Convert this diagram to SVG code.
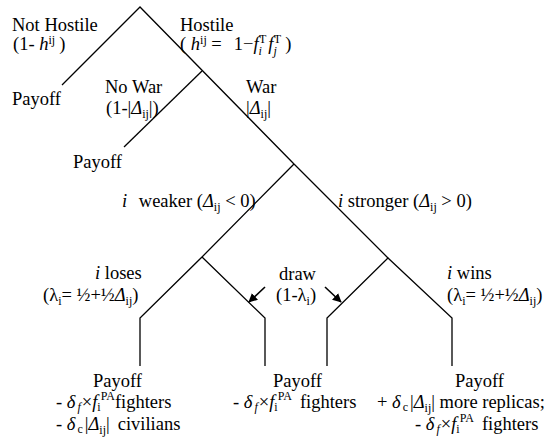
<svg xmlns="http://www.w3.org/2000/svg" width="548" height="437" viewBox="0 0 548 437">
<style>
  text{font-family:"Liberation Serif",Tinos,"Times New Roman",Times,"DejaVu Serif",serif;font-size:18.5px;fill:#000}
  .it{font-style:italic}
  .s{font-size:12px}
  .ln{fill:none;stroke:#000;stroke-width:1.3}
  .ar{fill:none;stroke:#000;stroke-width:1.6}
</style>
<defs>
  <marker id="ah" viewBox="0 0 10 10" refX="9" refY="5" markerWidth="9" markerHeight="9" markerUnits="userSpaceOnUse" orient="auto">
    <path d="M0,0 L10,5 L0,10 z" fill="#000"/>
  </marker>
</defs>
<rect width="548" height="437" fill="#fff"/>
<g id="connectors">
  <path class="ln" d="M62,85 L140,7 L294,164"/>
  <path class="ln" d="M202,71 L124,147"/>
  <path class="ln" d="M294,164 L202,257 L140,318 L140,366"/>
  <path class="ln" d="M202,257 L265,318 L265,366"/>
  <path class="ln" d="M294,164 L388,258 L327,318 L327,366"/>
  <path class="ln" d="M388,258 L452,318 L452,366"/>
  <line class="ar" x1="265" y1="287" x2="249" y2="302" marker-end="url(#ah)"/>
  <line class="ar" x1="325" y1="287" x2="341" y2="302" marker-end="url(#ah)"/>
</g>
<g id="not-hostile">
  <text x="12" y="31">Not Hostile</text>
  <text x="13" y="50">(1- <tspan class="it">h</tspan><tspan class="s" dy="-6">ij</tspan><tspan dy="6" dx="4">)</tspan></text>
  <text x="12" y="105">Payoff</text>
</g>
<g id="hostile">
  <text x="180" y="31">Hostile</text>
  <text x="180" y="50">( <tspan class="it">h</tspan><tspan class="s" dy="-6">ij</tspan><tspan dy="6"> =</tspan><tspan dx="12">1−</tspan><tspan class="it">f</tspan><tspan class="s it" dy="5">i</tspan><tspan class="s" dx="-3" dy="-12">T</tspan><tspan class="it" dy="7" dx="2">f</tspan><tspan class="s it" dy="5">j</tspan><tspan class="s" dx="-3" dy="-12">T</tspan><tspan dy="7" dx="4">)</tspan></text>
</g>
<g id="no-war">
  <text x="105" y="93">No War</text>
  <text x="106" y="114">(1-|<tspan class="it">Δ</tspan><tspan class="s" dy="4">ij</tspan><tspan dy="-4">|)</tspan></text>
  <text x="73" y="168">Payoff</text>
</g>
<g id="war">
  <text x="246" y="93">War</text>
  <text x="246" y="114">|<tspan class="it">Δ</tspan><tspan class="s" dy="4">ij</tspan><tspan dy="-4">|</tspan></text>
</g>
<g id="i-weaker">
  <text x="122" y="207"><tspan class="it">i</tspan><tspan dx="7"> weaker (</tspan><tspan class="it">Δ</tspan><tspan class="s" dy="4">ij</tspan><tspan dy="-4"> &lt; 0)</tspan></text>
</g>
<g id="i-stronger">
  <text x="338" y="207"><tspan class="it">i</tspan> stronger (<tspan class="it">Δ</tspan><tspan class="s" dy="4">ij</tspan><tspan dy="-4"> &gt; 0)</tspan></text>
</g>
<g id="i-loses">
  <text x="95" y="279"><tspan class="it">i</tspan> loses</text>
  <text x="43" y="301">(λ<tspan class="s" dy="4">i</tspan><tspan dy="-4">= ½+½</tspan><tspan class="it">Δ</tspan><tspan class="s" dy="4">ij</tspan><tspan dy="-4">)</tspan></text>
  <text x="93" y="387">Payoff</text>
  <text x="56" y="408">- <tspan class="it">δ</tspan><tspan class="s it" dy="3" dx="2">f</tspan><tspan dy="-3" dx="1">×</tspan><tspan class="it">f</tspan><tspan class="s" dy="3">i</tspan><tspan class="s" dy="-11">PA</tspan><tspan dy="8">fighters</tspan></text>
  <text x="56" y="430">- <tspan class="it">δ</tspan><tspan class="s" dy="3" dx="2">c</tspan><tspan dy="-3" dx="2">|</tspan><tspan class="it">Δ</tspan><tspan class="s" dy="4">ij</tspan><tspan dy="-4">|</tspan><tspan dx="8">civilians</tspan></text>
</g>
<g id="draw">
  <text x="279" y="280">draw</text>
  <text x="276" y="301">(1-λ<tspan class="s" dy="4">i</tspan><tspan dy="-4">)</tspan></text>
  <text x="273" y="387">Payoff</text>
  <text x="233" y="408">- <tspan class="it">δ</tspan><tspan class="s it" dy="3" dx="2">f</tspan><tspan dy="-3" dx="1">×</tspan><tspan class="it">f</tspan><tspan class="s" dy="3">i</tspan><tspan class="s" dy="-11">PA</tspan><tspan dy="8" dx="8">fighters</tspan></text>
</g>
<g id="i-wins">
  <text x="447" y="279"><tspan class="it">i</tspan> wins</text>
  <text x="447" y="301">(λ<tspan class="s" dy="4">i</tspan><tspan dy="-4">= ½+½</tspan><tspan class="it">Δ</tspan><tspan class="s" dy="4">ij</tspan><tspan dy="-4">)</tspan></text>
  <text x="455" y="387">Payoff</text>
  <text x="377" y="408">+ <tspan class="it">δ</tspan><tspan class="s" dy="3" dx="2">c</tspan><tspan dy="-3" dx="2">|</tspan><tspan class="it">Δ</tspan><tspan class="s" dy="4">ij</tspan><tspan dy="-4">| more replicas;</tspan></text>
  <text x="415" y="430">- <tspan class="it">δ</tspan><tspan class="s it" dy="3" dx="2">f</tspan><tspan dy="-3" dx="1">×</tspan><tspan class="it">f</tspan><tspan class="s" dy="3">i</tspan><tspan class="s" dy="-11">PA</tspan><tspan dy="8" dx="8">fighters</tspan></text>
</g>
</svg>
